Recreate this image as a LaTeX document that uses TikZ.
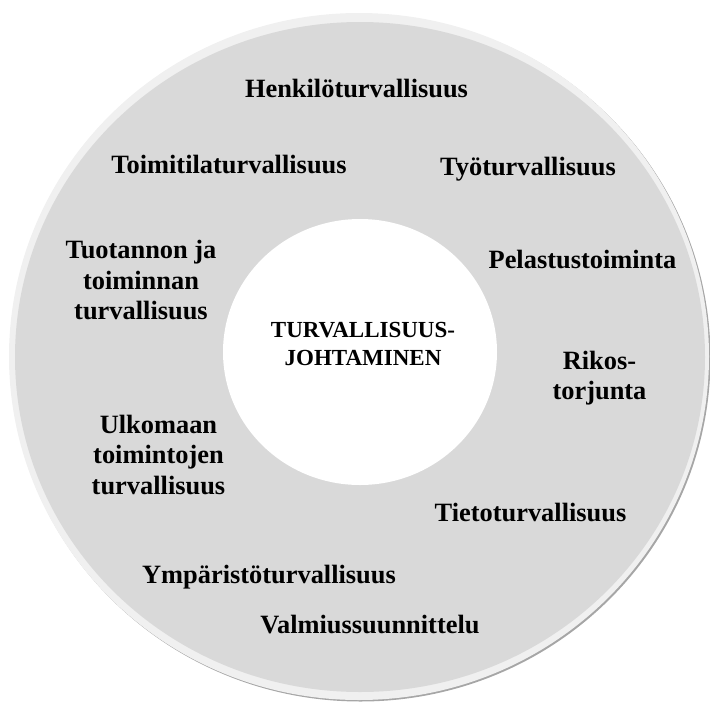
\documentclass[tikz,border=0pt]{standalone}
\usepackage{fontspec}
\setmainfont{Liberation Serif}
\definecolor{ringgray}{HTML}{D9D9D9}
\definecolor{rimgray}{HTML}{F0F0F0}
\definecolor{shadowgray}{HTML}{A6A6A6}
\begin{document}
\begin{tikzpicture}[x=1pt,y=-1pt,
  lbl/.style={font=\bfseries\fontsize{26.4}{30.5}\selectfont, inner sep=0pt, anchor=base, align=center},
  core/.style={font=\bfseries\fontsize{23}{28}\selectfont, inner sep=0pt, anchor=base, align=center}]
\useasboundingbox (0,0) rectangle (710,702);
% outer disc with rim and soft shadow
\fill[shadowgray] (360.5,358) ellipse [x radius=350, y radius=343.5];
\fill[rimgray] (359,356.5) ellipse [x radius=350, y radius=343.5];
\fill[ringgray] (360,357) ellipse [x radius=345, y radius=335];
% inner white disc
\fill[white] (360,352) ellipse [x radius=137, y radius=133];
% labels (base anchor = baseline of the last line)
\node[core] (center) at (363,365) {TURVALLISUUS-\\JOHTAMINEN};
\node[lbl] (henk) at (356.5,97) {Henkilöturvallisuus};
\node[lbl] (toimitila) at (229,173) {Toimitilaturvallisuus};
\node[lbl] (tyo) at (528,175) {Työturvallisuus};
\node[lbl] (pelastus) at (582.5,268) {Pelastustoiminta};
\node[lbl] (tuotanto) at (141,319.5) {Tuotannon ja\\toiminnan\\turvallisuus};
\node[lbl] (rikos) at (599.5,399.5) {Rikos-\\torjunta};
\node[lbl] (ulkomaa) at (158.5,494) {Ulkomaan\\toimintojen\\turvallisuus};
\node[lbl] (tieto) at (530.5,521.7) {Tietoturvallisuus};
\node[lbl] (ymparisto) at (269,583) {Ympäristöturvallisuus};
\node[lbl] (valmius) at (370,633) {Valmiussuunnittelu};
\end{tikzpicture}
\end{document}
